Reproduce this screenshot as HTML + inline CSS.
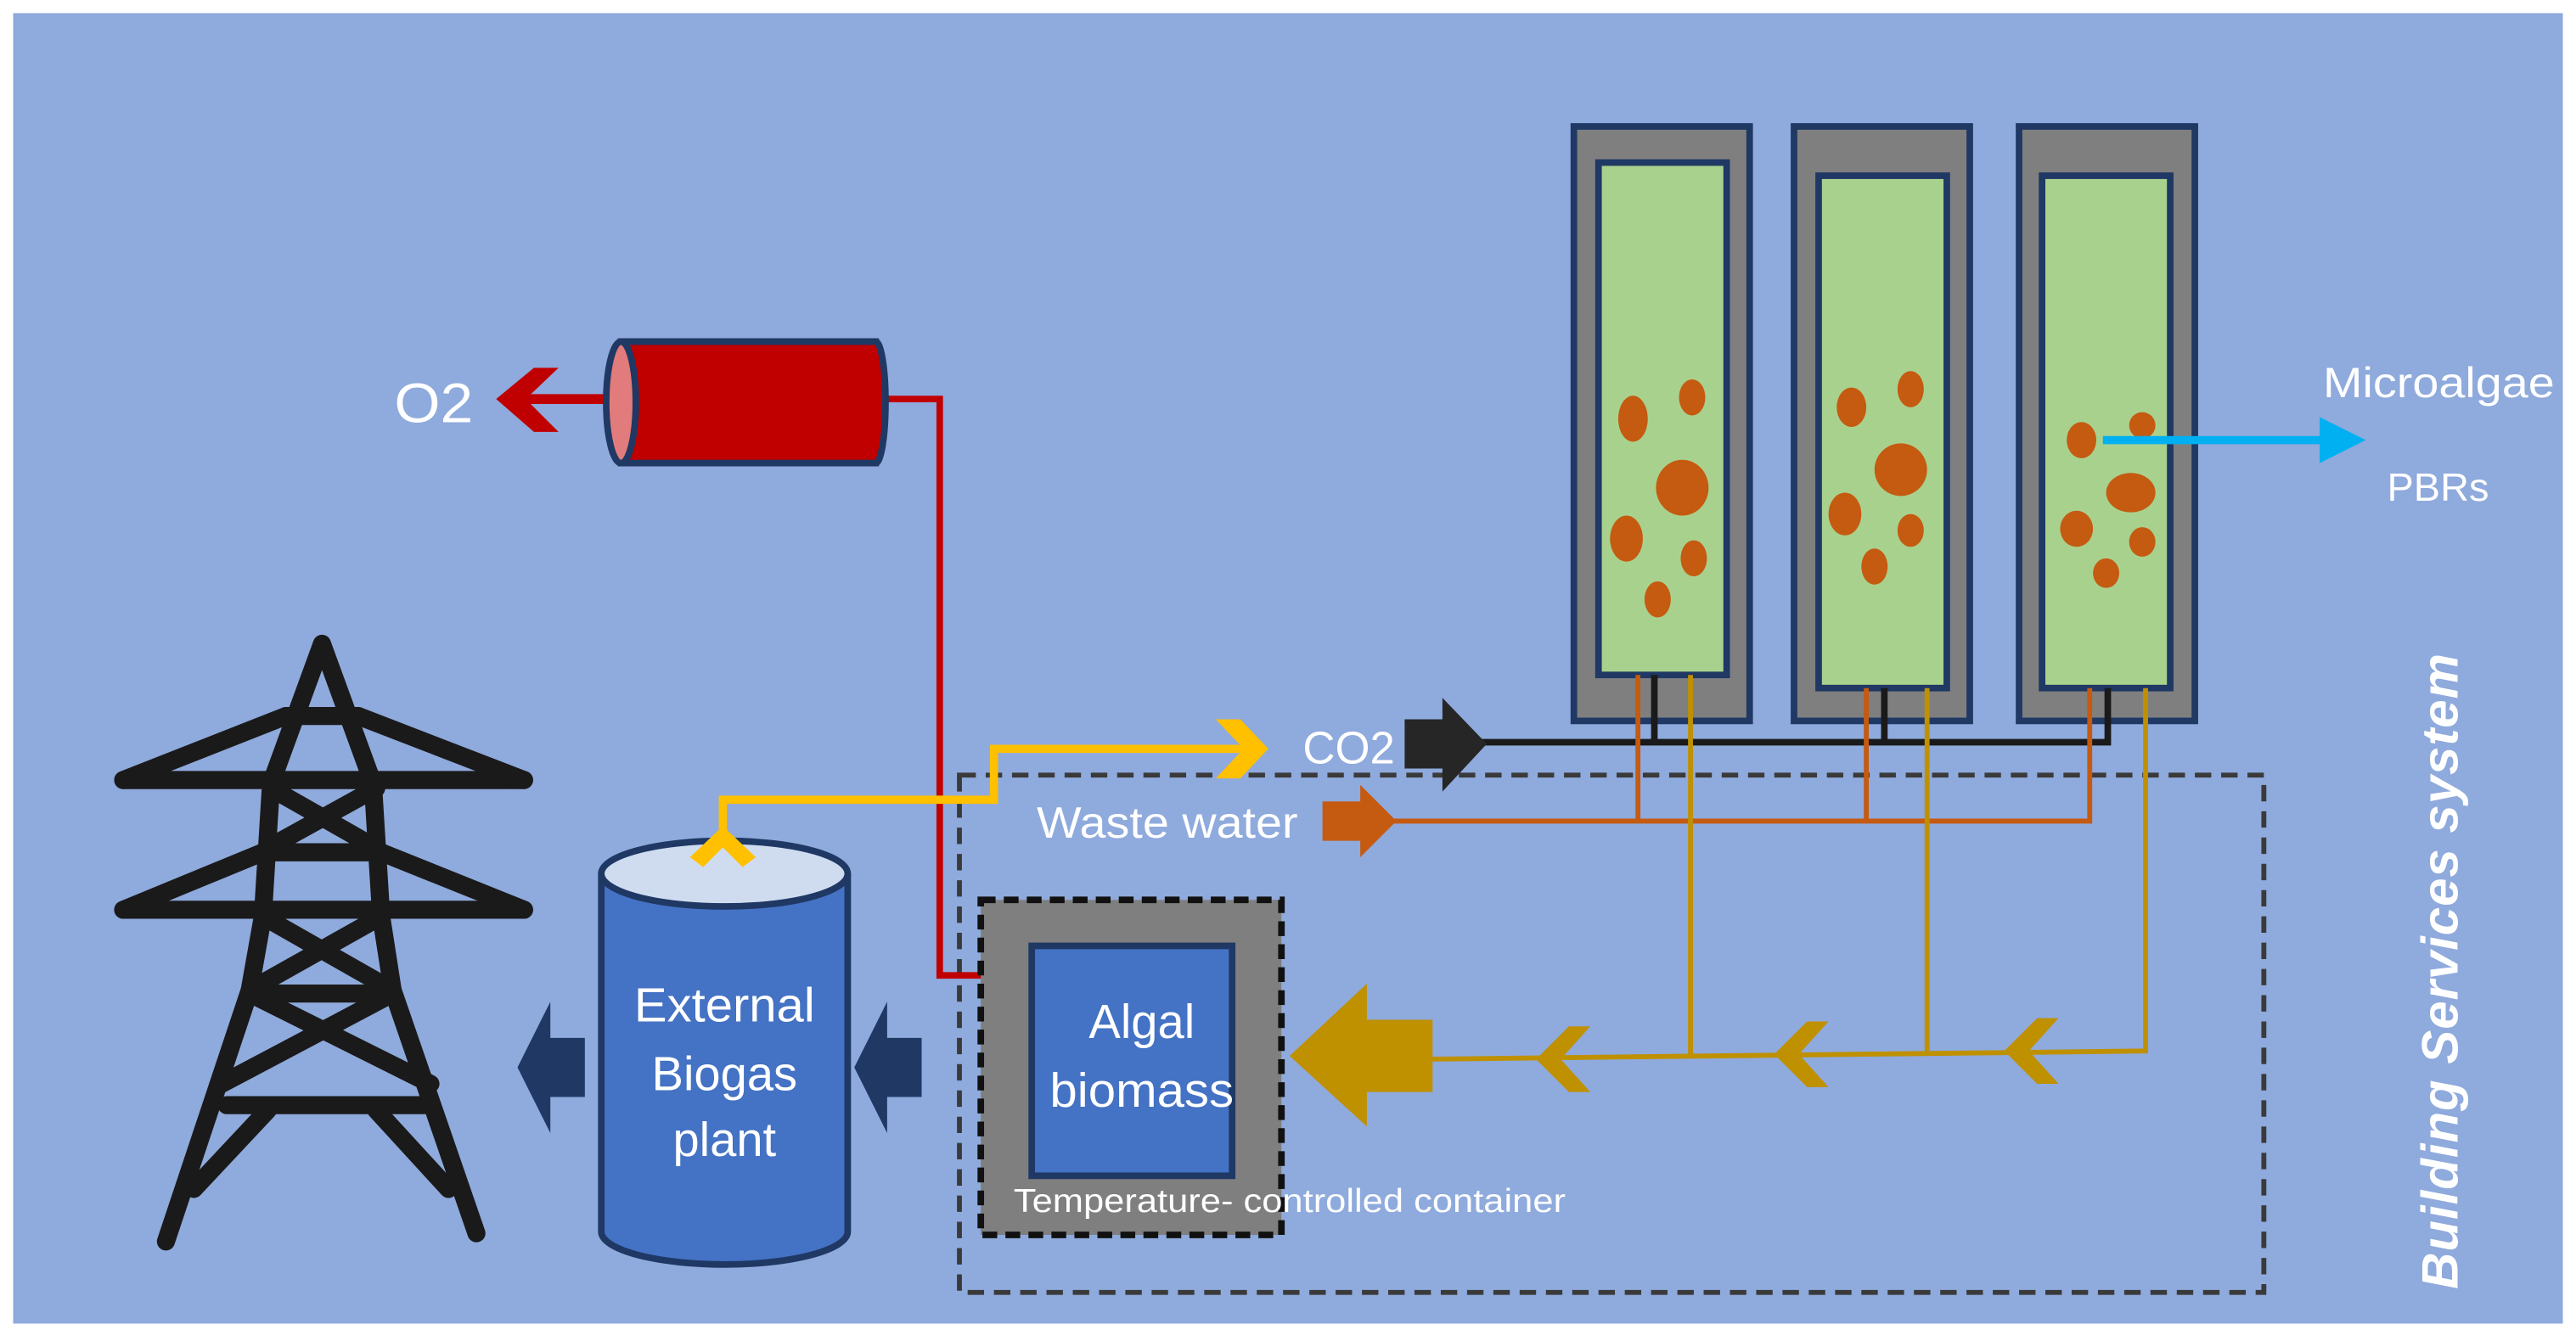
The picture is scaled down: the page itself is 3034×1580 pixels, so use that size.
<!DOCTYPE html>
<html><head><meta charset="utf-8"><style>
html,body{margin:0;padding:0;background:#fff}
svg{display:block}
text{font-family:"Liberation Sans",sans-serif;fill:#fff}
</style></head><body>
<svg width="3034" height="1580" viewBox="0 0 1568 816.6" preserveAspectRatio="none" xmlns="http://www.w3.org/2000/svg">
<rect x="0" y="0" width="1568" height="816.6" fill="#fff"/>
<rect x="8" y="8" width="1552" height="798" fill="#8faadc"/>

<rect x="584" y="472" width="794" height="315" fill="none" stroke="#3a3a3a" stroke-width="3" stroke-dasharray="10,6"/>

<polyline points="538,243 572,243 572,594 598,594" fill="none" stroke="#c00000" stroke-width="4"/>
<line x1="368" y1="243" x2="320" y2="243" stroke="#c00000" stroke-width="6"/>
<polygon points="302,243 325,224 340,224 320,243 340,263 325,263" fill="#c00000"/>
<text x="240" y="257" font-size="34" textLength="48" lengthAdjust="spacingAndGlyphs">O2</text>
<rect x="378" y="208" width="155" height="74" fill="#c00000" stroke="#1f3864" stroke-width="4"/>
<ellipse cx="533" cy="245" rx="6" ry="37" fill="#c00000" stroke="#1f3864" stroke-width="4"/>
<rect x="376" y="210" width="157" height="70" fill="#c00000"/>
<line x1="378" y1="208" x2="533" y2="208" stroke="#1f3864" stroke-width="4"/>
<line x1="378" y1="282" x2="533" y2="282" stroke="#1f3864" stroke-width="4"/>
<ellipse cx="378" cy="245" rx="9" ry="37" fill="#e27b7b" stroke="#1f3864" stroke-width="4"/>

<g stroke="#1f3864" stroke-width="4">
<rect x="958" y="77" width="107" height="362" fill="#7f7f7f"/>
<rect x="1092" y="77" width="107" height="362" fill="#7f7f7f"/>
<rect x="1229" y="77" width="107" height="362" fill="#7f7f7f"/>
<rect x="973" y="99" width="78" height="312" fill="#a9d18e"/>
<rect x="1107" y="107" width="78" height="312" fill="#a9d18e"/>
<rect x="1243" y="107" width="78" height="312" fill="#a9d18e"/>
</g>
<g fill="#c55a11">
<ellipse cx="994" cy="255" rx="9" ry="14"/><ellipse cx="1030" cy="242" rx="8" ry="11"/>
<ellipse cx="1024" cy="297" rx="16" ry="17"/><ellipse cx="990" cy="328" rx="10" ry="14"/>
<ellipse cx="1031" cy="340" rx="8" ry="11"/><ellipse cx="1009" cy="365" rx="8" ry="11"/>
<ellipse cx="1127" cy="248" rx="9" ry="12"/><ellipse cx="1163" cy="237" rx="8" ry="11"/>
<ellipse cx="1157" cy="286" rx="16" ry="16"/><ellipse cx="1123" cy="313" rx="10" ry="13"/>
<ellipse cx="1163" cy="323" rx="8" ry="10"/><ellipse cx="1141" cy="345" rx="8" ry="11"/>
<ellipse cx="1267" cy="268" rx="9" ry="11"/><ellipse cx="1304" cy="259" rx="8" ry="8"/>
<ellipse cx="1297" cy="300" rx="15" ry="12"/><ellipse cx="1264" cy="322" rx="10" ry="11"/>
<ellipse cx="1304" cy="330" rx="8" ry="9"/><ellipse cx="1282" cy="349" rx="8" ry="9"/>
</g>
<line x1="1280" y1="268" x2="1415" y2="268" stroke="#00b0f0" stroke-width="5"/>
<polygon points="1412,254 1440,268 1412,282" fill="#00b0f0"/>
<text x="1414" y="242" font-size="26" textLength="141" lengthAdjust="spacingAndGlyphs">Microalgae</text>
<text x="1453" y="305" font-size="24" textLength="62" lengthAdjust="spacingAndGlyphs">PBRs</text>

<polyline points="1007,411 1007,452" fill="none" stroke="#1a1a1a" stroke-width="4"/>
<polyline points="1147,419 1147,452" fill="none" stroke="#1a1a1a" stroke-width="4"/>
<polyline points="1283,419 1283,452 900,452" fill="none" stroke="#1a1a1a" stroke-width="4"/>
<polygon points="855,438 878,438 878,425 905,453 878,482 878,468 855,468" fill="#262626"/>
<text x="793" y="465" font-size="28" textLength="56" lengthAdjust="spacingAndGlyphs">CO2</text>

<polyline points="997,411 997,500" fill="none" stroke="#c55a11" stroke-width="3"/>
<polyline points="1136,419 1136,500" fill="none" stroke="#c55a11" stroke-width="3"/>
<polyline points="1272,419 1272,500 845,500" fill="none" stroke="#c55a11" stroke-width="3"/>
<polygon points="805,488 828,488 828,478 850,500 828,522 828,512 805,512" fill="#c55a11"/>
<text x="631" y="510" font-size="27" textLength="159" lengthAdjust="spacingAndGlyphs">Waste water</text>

<g stroke="#bf9000" stroke-width="3" fill="none">
<line x1="1029" y1="411" x2="1029" y2="642"/>
<line x1="1173" y1="419" x2="1173" y2="640"/>
<polyline points="1306,419 1306,640 868,645"/>
</g>
<g fill="#bf9000">
<polygon points="935,645 955,625 968,625 950,645 968,665 955,665"/>
<polygon points="1080,642 1100,622 1113,622 1095,642 1113,662 1100,662"/>
<polygon points="1220,640 1240,620 1253,620 1235,640 1253,660 1240,660"/>
<polygon points="785,643 832,599 832,621 872,621 872,665 832,665 832,686"/>
</g>

<polyline points="440,520 440,487 605,487 605,456 760,456" fill="none" stroke="#ffc000" stroke-width="5"/>
<polygon points="740,438 755,438 772,456 755,474 740,474 757,456" fill="#ffc000"/>

<rect x="597" y="548" width="183" height="204" fill="#7f7f7f" stroke="#111" stroke-width="4" stroke-dasharray="9,5"/>
<rect x="628" y="576" width="122" height="140" fill="#4472c4" stroke="#1f3864" stroke-width="4"/>
<text x="695" y="632" font-size="29" text-anchor="middle">Algal</text>
<text x="695" y="674" font-size="29" text-anchor="middle" textLength="112" lengthAdjust="spacingAndGlyphs">biomass</text>
<text x="617" y="738" font-size="20" textLength="336" lengthAdjust="spacingAndGlyphs">Temperature- controlled container</text>

<path d="M366,532 L366,750 A75,20 0 0 0 516,750 L516,532" fill="#4472c4" stroke="#1f3864" stroke-width="4"/>
<ellipse cx="441" cy="532" rx="75" ry="20" fill="#cfdcf0" stroke="#1f3864" stroke-width="4"/>
<polygon points="440,503 460,522 452,528 440,516 428,528 420,522" fill="#ffc000"/>
<text x="441" y="622" font-size="29" text-anchor="middle" textLength="110" lengthAdjust="spacingAndGlyphs">External</text>
<text x="441" y="664" font-size="29" text-anchor="middle">Biogas</text>
<text x="441" y="704" font-size="29" text-anchor="middle">plant</text>

<polygon points="315,650 335,610 335,632 356,632 356,668 335,668 335,690" fill="#203864"/>
<polygon points="520,650 540,610 540,632 561,632 561,668 540,668 540,690" fill="#203864"/>

<g stroke="#1a1a1a" stroke-width="11" stroke-linecap="round" stroke-linejoin="round" fill="none">
<polyline points="101,756 152,603 160,558 165,477 196,392 227,477 232,558 239,603 290,751"/>
<line x1="75" y1="475" x2="319" y2="475"/>
<line x1="75" y1="554" x2="319" y2="554"/>
<line x1="174" y1="436" x2="218" y2="436"/>
<line x1="174" y1="436" x2="75" y2="475"/>
<line x1="218" y1="436" x2="319" y2="475"/>
<line x1="160" y1="519" x2="75" y2="554"/>
<line x1="232" y1="519" x2="319" y2="554"/>
<line x1="160" y1="519" x2="232" y2="519"/>
<line x1="165" y1="480" x2="230" y2="517"/>
<line x1="229" y1="480" x2="162" y2="517"/>
<line x1="160" y1="558" x2="239" y2="603"/>
<line x1="232" y1="558" x2="152" y2="603"/>
<line x1="152" y1="605" x2="239" y2="605"/>
<line x1="152" y1="605" x2="262" y2="660"/>
<line x1="239" y1="605" x2="135" y2="660"/>
<line x1="138" y1="673" x2="258" y2="673"/>
<line x1="163" y1="676" x2="118" y2="724"/>
<line x1="229" y1="676" x2="273" y2="724"/>
</g>

<text transform="translate(1496,785) rotate(-90)" font-size="31" font-style="italic" font-weight="bold" letter-spacing="3" textLength="390" lengthAdjust="spacing">Building  Services  system</text>
</svg>
</body></html>
